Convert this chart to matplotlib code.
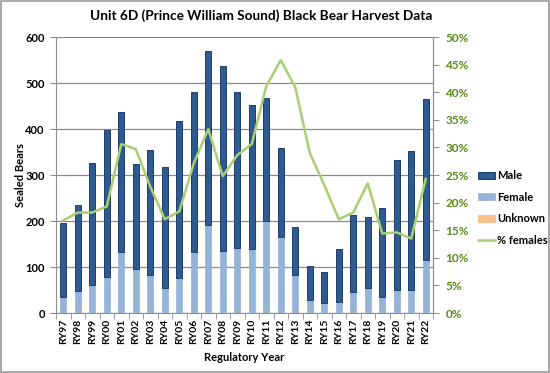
import matplotlib
matplotlib.use('Agg')
import matplotlib.pyplot as plt
import numpy as np
from matplotlib.patches import Rectangle
from matplotlib.ticker import MultipleLocator, FixedLocator, FuncFormatter

years = ['RY97', 'RY98', 'RY99', 'RY00', 'RY01', 'RY02', 'RY03', 'RY04', 'RY05',
         'RY06', 'RY07', 'RY08', 'RY09', 'RY10', 'RY11', 'RY12', 'RY13', 'RY14',
         'RY15', 'RY16', 'RY17', 'RY18', 'RY19', 'RY20', 'RY21', 'RY22']
male = [161, 187, 267, 318, 304, 227, 272, 263, 340, 348, 379, 404, 339, 312,
        268, 193, 105, 74, 68, 116, 168, 153, 194, 284, 302, 349]
female = [34, 46, 60, 78, 133, 96, 82, 54, 77, 132, 191, 134, 139, 140,
          196, 165, 80, 29, 22, 24, 42, 52, 34, 49, 49, 115]
unknown = [0, 2, 0, 1, 0, 0, 1, 0, 0, 0, 0, 0, 2, 0,
           3, 0, 3, 0, 0, 0, 3, 3, 0, 0, 1, 1]
pct_females = [16.8, 18.2, 18.2, 19.3, 30.6, 29.7, 22.9, 17.0, 18.4, 27.1, 33.3,
               24.8, 28.6, 30.6, 41.1, 45.8, 40.9, 29.0, 23.2, 17.0, 18.2, 23.5,
               14.4, 14.6, 13.5, 24.3]

plt.rcParams['font.family'] = ['Lato', 'DejaVu Sans']

W, H = 550, 373
fig = plt.figure(figsize=(5.5, 3.73), dpi=100)
ax = fig.add_axes([56 / W, 1 - 313 / H, 377 / W, 276 / H])

x = np.arange(len(years))
w = 0.4
unk = np.array(unknown)
fem = np.array(female)
b_unk = ax.bar(x, unk, w, color='#FAC090', edgecolor='#F7A464', linewidth=0.4, label='Unknown', zorder=3)
b_fem = ax.bar(x, fem, w, bottom=unk, color='#95B3D7', edgecolor='#8AA9CF', linewidth=0.4, label='Female', zorder=3)
b_male = ax.bar(x, male, w, bottom=unk + fem, color='#2E5A90', edgecolor='#1E3F6B', linewidth=0.7, label='Male', zorder=3)

ax.set_xlim(-0.5, len(years) - 0.5)
ax.set_ylim(0, 600)
ax.yaxis.set_major_locator(MultipleLocator(100))
ax.grid(axis='y', color='#8a8a8a', linewidth=0.9, zorder=0)
ax.set_axisbelow(True)

ax.set_xticks(x)
ax.set_xticklabels(years, rotation=90, fontsize=7.5, fontweight='bold')
ax.xaxis.set_minor_locator(FixedLocator(np.arange(-0.5, len(years), 1.0)))
ax.tick_params(axis='x', which='major', length=0, pad=4)
ax.tick_params(axis='x', which='minor', length=4, color='#8f8f8f', direction='out')
ax.tick_params(axis='y', length=4, color='#8f8f8f', labelsize=8, pad=4)
for lbl in ax.get_yticklabels():
    lbl.set_fontweight('bold')

for s in ['top']:
    ax.spines[s].set_visible(False)
for s in ['left', 'bottom', 'right']:
    ax.spines[s].set_color('#8f8f8f')

ax.set_ylabel('Sealed Bears', fontsize=8, fontweight='bold', labelpad=0)
ax.yaxis.set_label_coords(-(56 - 26) / 377, 0.5)
ax.set_xlabel('Regulatory Year', fontsize=8, fontweight='bold', labelpad=6)

ax2 = ax.twinx()
line, = ax2.plot(x, pct_females, color='#A9CF73', linewidth=1.8, label='% females', zorder=4)
ax2.set_ylim(0, 50)
ax2.yaxis.set_major_locator(MultipleLocator(5))
ax2.yaxis.set_major_formatter(FuncFormatter(lambda v, p: f'{int(round(v))}%'))
ax2.tick_params(axis='y', length=4, color='#8f8f8f', labelsize=8.5, labelcolor='#5C8A18', pad=5)
for lbl in ax2.get_yticklabels():
    lbl.set_fontweight('bold')
for s in ['top', 'left', 'bottom']:
    ax2.spines[s].set_visible(False)
ax2.spines['right'].set_color('#8f8f8f')

fig.text(261 / W, 1 - 16 / H, 'Unit 6D (Prince William Sound) Black Bear Harvest Data',
         ha='center', va='center', fontsize=9.8, fontweight='bold')

leg = fig.legend([b_male, b_fem, b_unk, line], ['Male', 'Female', 'Unknown', '% females'],
                 loc='upper left', bbox_to_anchor=(468 / W, 1 - 160 / H), frameon=False,
                 fontsize=8, handlelength=1.5, handleheight=0.6, handletextpad=0.2,
                 labelspacing=0.95)
for t in leg.get_texts():
    t.set_fontweight('bold')

fig.add_artist(Rectangle((0.001, 0.0015), 0.998, 0.997, transform=fig.transFigure,
                         fill=False, edgecolor='#9a9a9a', linewidth=1.2))

fig.savefig('out.png', dpi=100)
